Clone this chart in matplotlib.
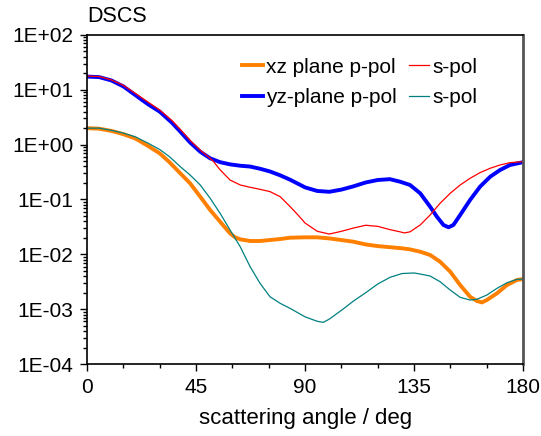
import matplotlib
matplotlib.use('Agg')
import matplotlib.pyplot as plt
from matplotlib.ticker import FixedLocator, FuncFormatter, LogLocator, NullFormatter
import numpy as np

plt.rcParams['font.family'] = ['Liberation Sans', 'DejaVu Sans']

# values, stored as log10(DSCS)
# xz plane, p-pol (orange, thick)
xz_p_angle = [0, 5, 10, 15, 20, 25, 30, 34, 38.4, 42.5, 46.7, 50.8, 54.9, 59.0, 61.1, 63.2,
              67.3, 71.4, 75.5, 79.7, 83.8, 90, 95, 100, 105, 110, 115, 120, 125, 130, 133.3,
              137.5, 141.6, 145.7, 149.9, 154.0, 158.1, 160.9, 163.0, 165.0, 169.2, 173.3,
              177.4, 180]
xz_p_log = [0.30, 0.29, 0.25, 0.19, 0.11, -0.02, -0.16, -0.32, -0.52, -0.705, -0.949, -1.192,
            -1.405, -1.617, -1.69, -1.726, -1.757, -1.757, -1.739, -1.721, -1.697, -1.69, -1.69,
            -1.71, -1.74, -1.77, -1.82, -1.85, -1.87, -1.89, -1.91, -1.952, -2.012, -2.134,
            -2.316, -2.56, -2.773, -2.85, -2.876, -2.833, -2.71, -2.56, -2.468, -2.45]

# xz plane, s-pol (red, thin)
xz_s_angle = [0, 5, 10, 15, 20, 25, 30, 35, 38.4, 42.5, 46.7, 50.8, 52.2, 54.9, 59.0, 63.2,
              67.3, 71.4, 75.5, 79.7, 83.8, 87, 90, 95, 100, 105, 110, 115, 120, 125, 129.2,
              131, 133.3, 137.5, 141.6, 145.7, 149.9, 154.0, 158.1, 162.2, 166.4, 170.5, 174.6,
              180]
xz_s_log = [1.25, 1.24, 1.18, 1.08, 0.93, 0.78, 0.63, 0.44, 0.28, 0.08, -0.10, -0.25, -0.31,
            -0.46, -0.645, -0.736, -0.778, -0.815, -0.857, -0.949, -1.13, -1.28, -1.43, -1.58,
            -1.63, -1.58, -1.52, -1.47, -1.49, -1.55, -1.59, -1.61, -1.59, -1.465, -1.283,
            -1.07, -0.887, -0.736, -0.614, -0.511, -0.431, -0.371, -0.329, -0.31]

# yz plane, p-pol (blue, thick)
yz_p_angle = [0, 5, 10, 15, 20, 25, 30, 35, 38.4, 42.5, 46.7, 50.8, 54.9, 59.0, 63.2, 67.3,
              71.4, 75.5, 79.7, 83.8, 90, 95, 100, 105, 110, 115, 120, 125, 129.2, 133.3,
              137.5, 141.6, 144.4, 147.1, 149.2, 151.2, 154.0, 158.1, 162.2, 166.4, 170.5,
              174.6, 180]
yz_p_log = [1.24, 1.23, 1.17, 1.06, 0.90, 0.74, 0.60, 0.40, 0.24, 0.04, -0.13, -0.25, -0.32,
            -0.36, -0.385, -0.40, -0.44, -0.49, -0.56, -0.64, -0.78, -0.845, -0.86, -0.82,
            -0.76, -0.69, -0.645, -0.63, -0.676, -0.736, -0.887, -1.132, -1.314, -1.465,
            -1.507, -1.465, -1.283, -1.009, -0.767, -0.585, -0.462, -0.371, -0.32]

# yz plane, s-pol (teal, thin)
yz_s_angle = [0, 5, 10, 15, 20, 25, 30, 34, 38.4, 42.5, 46.7, 50.8, 54.9, 59.0, 63.2, 67.3,
              71.4, 75.5, 79.7, 83.8, 90, 95, 97.5, 100, 105, 110, 115, 120, 125, 130, 135,
              137.5, 141.6, 145.7, 149.9, 154.0, 158.1, 160.9, 165.0, 169.2, 173.3, 177.4, 180]
yz_s_log = [0.30, 0.30, 0.26, 0.21, 0.14, 0.03, -0.09, -0.22, -0.40, -0.553, -0.736, -0.978,
            -1.252, -1.556, -1.861, -2.226, -2.529, -2.773, -2.893, -2.985, -3.14, -3.22,
            -3.24, -3.18, -3.02, -2.85, -2.70, -2.54, -2.42, -2.35, -2.34, -2.359, -2.395,
            -2.499, -2.651, -2.784, -2.833, -2.82, -2.742, -2.62, -2.518, -2.457, -2.45]

fig = plt.figure(figsize=(5.41, 4.36), dpi=100)
ax = fig.add_axes([0.161, 0.165, 0.806, 0.755])

l1, = ax.plot(xz_p_angle, 10 ** np.array(xz_p_log), color='#FF8000', lw=2.8,
              label='xz plane p-pol', solid_joinstyle='round')
l3, = ax.plot(yz_p_angle, 10 ** np.array(yz_p_log), color='#0000FF', lw=2.8,
              label='yz-plane p-pol', solid_joinstyle='round')
l2, = ax.plot(xz_s_angle, 10 ** np.array(xz_s_log), color='#FF0000', lw=0.9, label='s-pol')
l4, = ax.plot(yz_s_angle, 10 ** np.array(yz_s_log), color='#008080', lw=0.9, label='s-pol')

ax.set_yscale('log')
ax.set_ylim(1e-4, 1e2)
ax.set_xlim(0, 180)

ax.xaxis.set_major_locator(FixedLocator([0, 45, 90, 135, 180]))
ax.xaxis.set_minor_locator(FixedLocator(list(range(0, 181, 15))))
ax.yaxis.set_major_locator(LogLocator(base=10, numticks=10))
ax.yaxis.set_minor_locator(LogLocator(base=10, subs=np.arange(2, 10), numticks=10))
ax.yaxis.set_minor_formatter(NullFormatter())
ax.yaxis.set_major_formatter(FuncFormatter(lambda v, p: '1E%+03d' % int(round(np.log10(v)))))

ax.tick_params(which='both', direction='out', top=False, right=False, labelsize=15, width=1)
ax.tick_params(which='major', length=5, pad=5)
ax.tick_params(which='minor', length=3)

for s in ['left', 'bottom', 'top']:
    ax.spines[s].set_linewidth(1.2)
    ax.spines[s].set_color('black')
ax.spines['right'].set_color('#555555')
ax.spines['right'].set_linewidth(2)

ax.set_xlabel('scattering angle / deg', fontsize=16, labelpad=8)
ax.text(0, 1.025, 'DSCS', transform=ax.transAxes, fontsize=15.5, ha='left', va='bottom')

ax.legend(handles=[l1, l3, l2, l4], ncol=2, frameon=False, fontsize=15,
          loc='upper left', bbox_to_anchor=(0.356, 0.931), borderpad=0, borderaxespad=0,
          handlelength=1.0, handletextpad=0.15, columnspacing=0.55, labelspacing=0.55)

fig.savefig('out.png', dpi=100)
